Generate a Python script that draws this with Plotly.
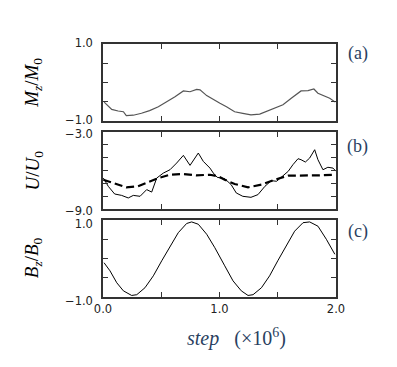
import plotly.graph_objects as go
from plotly.subplots import make_subplots

# (a) magnetisation
step_m = [0.01, 0.075, 0.13, 0.175, 0.20, 0.26, 0.33, 0.40, 0.475, 0.547, 0.618, 0.69,
          0.747, 0.804, 0.833, 0.89, 0.96, 1.004, 1.06, 1.13, 1.20, 1.27, 1.345, 1.416,
          1.49, 1.545, 1.616, 1.70, 1.76, 1.81, 1.845, 1.90, 1.946, 1.994]
mz = [-0.51, -0.70, -0.74, -0.76, -0.86, -0.85, -0.80, -0.73, -0.63, -0.51, -0.37, -0.22,
      -0.24, -0.18, -0.19, -0.34, -0.45, -0.54, -0.63, -0.76, -0.80, -0.84, -0.82, -0.73,
      -0.65, -0.58, -0.41, -0.22, -0.21, -0.17, -0.28, -0.35, -0.41, -0.51]

# (b) energy, instantaneous (solid) and averaged (dashed)
step_u = [0.003, 0.045, 0.10, 0.16, 0.217, 0.26, 0.318, 0.375, 0.418, 0.461, 0.518, 0.575,
          0.632, 0.69, 0.747, 0.818, 0.861, 0.918, 0.947, 0.98, 1.045, 1.10, 1.144, 1.20,
          1.27, 1.33, 1.39, 1.445, 1.49, 1.545, 1.59, 1.63, 1.674, 1.70, 1.737, 1.774,
          1.817, 1.845, 1.888, 1.93, 1.974, 2.0]
u = [-6.59, -7.23, -7.83, -7.94, -8.14, -7.94, -8.01, -7.49, -7.68, -6.59, -6.20, -5.94,
     -5.42, -4.82, -5.60, -4.64, -5.29, -5.81, -6.20, -6.53, -6.64, -7.10, -7.75, -8.01,
     -8.09, -7.88, -7.23, -6.79, -6.84, -6.45, -6.06, -5.55, -5.08, -5.16, -5.34, -5.03,
     -4.38, -5.16, -5.94, -5.75, -5.81, -6.06]
step_uavg = [0.003, 0.088, 0.20, 0.30, 0.40, 0.475, 0.575, 0.69, 0.80, 0.918, 0.99, 1.045,
             1.13, 1.245, 1.36, 1.474, 1.59, 1.70, 1.845, 1.99]
u_avg = [-6.72, -6.97, -7.31, -7.23, -6.84, -6.59, -6.33, -6.27, -6.38, -6.33, -6.45, -6.72,
         -7.05, -7.31, -7.10, -6.72, -6.40, -6.40, -6.38, -6.33]

# (c) applied field
step_b = [0.009, 0.06, 0.118, 0.175, 0.246, 0.29, 0.36, 0.432, 0.504, 0.575, 0.646, 0.718,
          0.761, 0.818, 0.89, 0.96, 1.004, 1.045, 1.116, 1.187, 1.245, 1.288, 1.36, 1.43,
          1.50, 1.573, 1.645, 1.717, 1.774, 1.845, 1.917, 1.99]
bz = [-0.11, -0.32, -0.63, -0.84, -0.96, -0.94, -0.76, -0.45, -0.06, 0.32, 0.67, 0.91,
      0.95, 0.89, 0.63, 0.28, 0.02, -0.19, -0.58, -0.84, -0.96, -0.94, -0.76, -0.45,
      -0.06, 0.32, 0.71, 0.93, 0.95, 0.84, 0.50, 0.11]

x_ticks = [0, 0.5, 1.0, 1.5, 2.0]
x_labels = ["0.0", "", "1.0", "", "2.0"]
unit_ticks = [-1, -0.5, 0, 0.5, 1]
unit_labels = ["\u22121.0", "", "", "", "1.0"]
u_ticks = [-9, -8, -7, -6, -5, -4, -3]
u_labels = ["\u22129.0", "", "", "", "", "", "\u22123.0"]

fig = make_subplots(rows=3, cols=1)

fig.add_trace(go.Scatter(x=step_m, y=mz, mode="lines",
                         line=dict(color="#555555", width=1.2)), row=1, col=1)
fig.add_trace(go.Scatter(x=step_u, y=u, mode="lines",
                         line=dict(color="black", width=1)), row=2, col=1)
fig.add_trace(go.Scatter(x=step_uavg, y=u_avg, mode="lines",
                         line=dict(color="black", width=2.2, dash="8px,4px")), row=2, col=1)
fig.add_trace(go.Scatter(x=step_b, y=bz, mode="lines",
                         line=dict(color="black", width=1)), row=3, col=1)

axis_style = dict(showline=True, linecolor="#333333", linewidth=1.5, mirror="ticks",
                  ticks="inside", ticklen=5, tickcolor="#333333", showgrid=False,
                  zeroline=False, automargin=False,
                  tickfont=dict(family="DejaVu Sans", size=11.5, color="#222"))

domains = [[0.6957, 1.0], [0.3478, 0.6522], [0.0, 0.3043]]
label_shift = [-1, 2, 4]  # positive moves labels down the page
for i in range(3):
    show = i == 2
    fig.update_xaxes(range=[0, 2], tickvals=x_ticks, ticktext=x_labels if show else [""] * 5,
                     ticklabelstandoff=0, row=i + 1, col=1, **axis_style)
    fig.update_yaxes(domain=domains[i], ticklabelstandoff=6, ticklabelshift=label_shift[i],
                     row=i + 1, col=1, **axis_style)

fig.update_yaxes(range=[-1, 1], tickvals=unit_ticks, ticktext=unit_labels, row=1, col=1)
fig.update_yaxes(range=[-9, -3], tickvals=u_ticks, ticktext=u_labels, row=2, col=1)
fig.update_yaxes(range=[-1, 1], tickvals=unit_ticks, ticktext=unit_labels, row=3, col=1)

serif = dict(family="Liberation Serif", size=19, color="black")
annotations = [
    dict(x=-0.3, y=0.847, text="<i>M<sub>z</sub></i>/<i>M</i><sub>0</sub>", textangle=-90),
    dict(x=-0.3, y=0.5, text="<i>U</i>/<i>U</i><sub>0</sub>", textangle=-90),
    dict(x=-0.3, y=0.154, text="<i>B<sub>z</sub></i>/<i>B</i><sub>0</sub>", textangle=-90),
    dict(x=1.094, y=0.964, text="(a)", font=dict(family="Liberation Serif", size=18)),
    dict(x=1.094, y=0.593, text="(b)", font=dict(family="Liberation Serif", size=18)),
    dict(x=1.094, y=0.257, text="(c)", font=dict(family="Liberation Serif", size=18)),
    dict(x=0.575, y=-0.162, text="<i>step</i>&nbsp;&nbsp;&nbsp;(\u00d710<sup>6</sup>)",
         font=dict(family="Liberation Serif", size=20)),
]
for a in annotations:
    a.setdefault("font", serif)
    fig.add_annotation(xref="paper", yref="paper", showarrow=False,
                       xanchor="center", yanchor="middle", **a)

# the page body adds an 8px offset, so the figure is 8px smaller and margins shifted
fig.update_layout(width=389, height=359, showlegend=False,
                  margin=dict(l=95, r=61, t=36, b=70),
                  paper_bgcolor="white", plot_bgcolor="white")

fig.write_html("out.html")
